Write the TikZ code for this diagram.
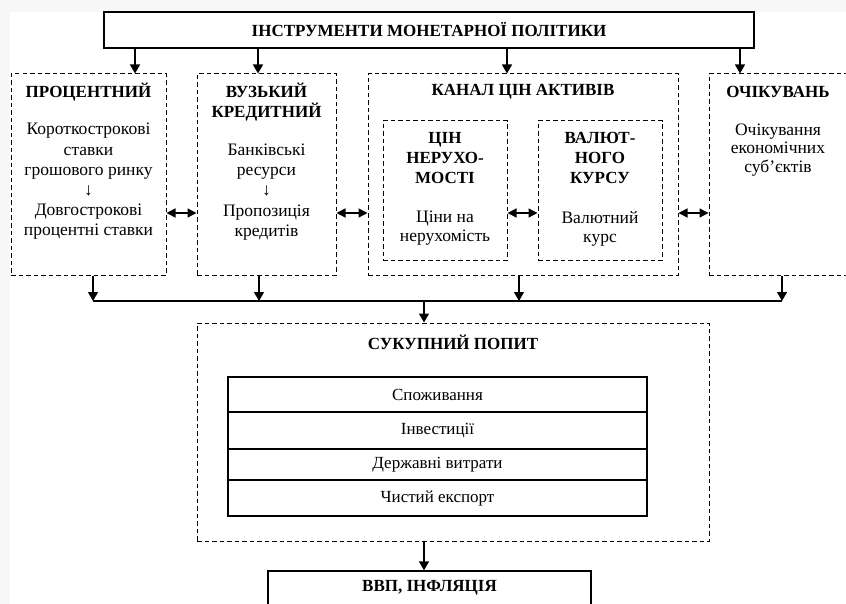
\documentclass[tikz,border=0pt]{standalone}
\usepackage{fontspec}
\setmainfont{Liberation Serif}
\usetikzlibrary{arrows.meta}
\begin{document}
\begin{tikzpicture}[x=1pt,y=-1pt,
  frame/.style={draw=black, line width=1.3pt, inner sep=0pt},
  dbox/.style={draw=black, line width=1pt, dash pattern=on 4.5pt off 3pt, inner sep=0pt},
  head/.style={font=\fontsize{17}{20}\selectfont\bfseries, align=center, inner sep=0pt},
  body/.style={font=\fontsize{17.5}{20.2}\selectfont, align=center, inner sep=0pt},
  row/.style={frame, minimum width=419pt, font=\fontsize{17}{20}\selectfont},
  arr/.style={line width=1.3pt, -{Triangle[length=9pt,width=10pt]}},
  darr/.style={line width=1.3pt, {Triangle[length=9pt,width=9pt]}-{Triangle[length=9pt,width=9pt]}},
  bus/.style={line width=1.3pt}]

% page and margins
\fill[gray!6] (0,0) rectangle (846,604);
\fill[white] (10,12) rectangle (846,604);
\useasboundingbox (0,0) rectangle (846,604);

% instruments
\node[frame, minimum width=650pt, minimum height=36pt] (top) at (429,30) {};
\node[head] (toptxt) at (429,30) {ІНСТРУМЕНТИ МОНЕТАРНОЇ ПОЛІТИКИ};

% transmission channels
\node[dbox, minimum width=155pt, minimum height=201pt] (p1) at (88.5,174.5) {};
\node[dbox, minimum width=139pt, minimum height=201pt] (p2) at (266.5,174.5) {};
\node[dbox, minimum width=310pt, minimum height=201pt] (p3) at (523,174.5) {};
\node[dbox, minimum width=138pt, minimum height=201pt] (p4) at (778,174.5) {};
\node[dbox, minimum width=124pt, minimum height=139pt] (p3a) at (445,190.5) {};
\node[dbox, minimum width=124pt, minimum height=139pt] (p3b) at (600,190.5) {};

\node[head] (h1) at (88.5,92) {ПРОЦЕНТНИЙ};
\node[body] (b1) at (88.5,181.5) {Короткострокові\\ставки\\грошового ринку\\↓\\Довгострокові\\процентні ставки};

\node[head] (h2) at (266.5,102) {ВУЗЬКИЙ\\КРЕДИТНИЙ};
\node[body] (b2) at (266.5,192) {Банківські\\ресурси\\↓\\Пропозиція\\кредитів};

\node[head] (h3) at (523,92) {КАНАЛ ЦІН АКТИВІВ};
\node[head] (h3a) at (445,158) {ЦІН\\НЕРУХО-\\МОСТІ};
\node[body, font=\fontsize{17.5}{19}\selectfont] (b3a) at (445,228.5) {Ціни на\\нерухомість};
\node[head] (h3b) at (600,158) {ВАЛЮТ-\\НОГО\\КУРСУ};
\node[body, font=\fontsize{17.5}{19}\selectfont] (b3b) at (600,228.5) {Валютний\\курс};

\node[head] (h4) at (778,92) {ОЧІКУВАНЬ};
\node[body, font=\fontsize{17.5}{18.5}\selectfont] (b4) at (778,150) {Очікування\\економічних\\суб’єктів};

% aggregate demand
\node[dbox, minimum width=512pt, minimum height=218pt] (demand) at (453,432) {};
\node[head] (hd) at (453,342) {СУКУПНИЙ ПОПИТ};
\node[row, minimum height=35pt] (r1) at (437.5,394.5) {Споживання};
\node[row, minimum height=37pt] (r2) at (437.5,430.5) {Інвестиції};
\node[row, minimum height=31pt] (r3) at (437.5,464.5) {Державні витрати};
\node[row, minimum height=36pt] (r4) at (437.5,498) {Чистий експорт};

% output
\node[frame, minimum width=323pt, minimum height=50pt] (gdp) at (429.5,596) {};
\node[head] (gdptxt) at (429.5,588) {ВВП, ІНФЛЯЦІЯ};

% instruments to channels
\coordinate (t1) at (135,0);
\coordinate (t2) at (258,0);
\coordinate (t3) at (507,0);
\coordinate (t4) at (740,0);
\draw[arr] (top.south -| t1) -- (p1.north -| t1);
\draw[arr] (top.south -| t2) -- (p2.north -| t2);
\draw[arr] (top.south -| t3) -- (p3.north -| t3);
\draw[arr] (top.south -| t4) -- (p4.north -| t4);

% links between channels
\coordinate (m) at (0,213);
\draw[darr] (p1.east |- m) -- (p2.west |- m);
\draw[darr] (p2.east |- m) -- (p3.west |- m);
\draw[darr] (p3a.east |- m) -- (p3b.west |- m);
\draw[darr] (p3.east |- m) -- (p4.west |- m);

% collecting line
\coordinate (c1) at (93,301);
\coordinate (c2) at (259,301);
\coordinate (c3) at (519,301);
\coordinate (c4) at (782,301);
\coordinate (c5) at (424,301);
\draw[bus] (c1) -- (c4);
\draw[arr] (p1.south -| c1) -- (c1);
\draw[arr] (p2.south -| c2) -- (c2);
\draw[arr] (p3.south -| c3) -- (c3);
\draw[arr] (p4.south -| c4) -- (c4);
\draw[arr] (c5) -- (demand.north -| c5);
\draw[arr] (demand.south -| c5) -- (gdp.north -| c5);
\end{tikzpicture}
\end{document}
